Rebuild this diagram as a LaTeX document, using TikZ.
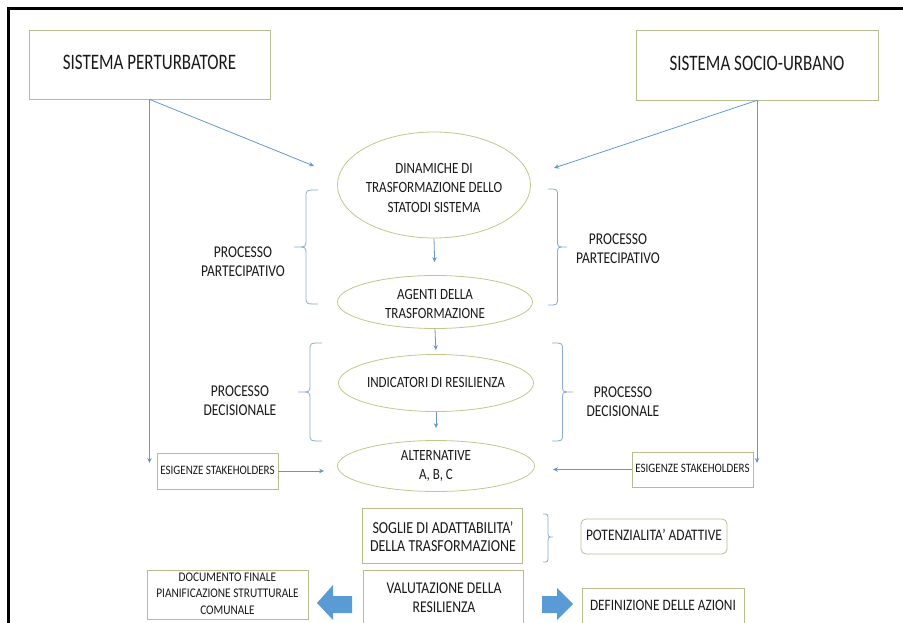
\documentclass[tikz,border=0pt]{standalone}
\usepackage{fontspec}
\usepackage{graphicx}
\setmainfont{Carlito}
\usetikzlibrary{shapes.geometric,arrows.meta}
\definecolor{boxc}{RGB}{180,190,145}
\definecolor{ellc}{RGB}{190,200,140}
\definecolor{arrc}{RGB}{105,150,200}
\definecolor{brc}{RGB}{140,170,210}
\definecolor{fatc}{RGB}{91,155,213}
\definecolor{txtc}{RGB}{25,25,25}
\newcommand\tx[2][1.22]{\scalebox{1}[#1]{\begin{tabular}{@{}c@{}}#2\end{tabular}}}
\newcommand\MyBrace[5]{% tip x, end x, top y, mid y, bottom y
  \draw[bracestyle] (#2,#3) .. controls ({(#1+#2)/2},#3) .. ({(#1+#2)/2},{#3+7})
    -- ({(#1+#2)/2},{#4-6}) .. controls ({(#1+#2)/2},#4) .. (#1,#4)
    .. controls ({(#1+#2)/2},#4) .. ({(#1+#2)/2},{#4+6})
    -- ({(#1+#2)/2},{#5-7}) .. controls ({(#1+#2)/2},#5) .. (#2,#5);}
\begin{document}
\begin{tikzpicture}[x=1pt,y=-1pt,
  every node/.style={text=txtc},
  titlebox/.style={draw=boxc, line width=0.8pt, inner sep=0pt, font=\fontsize{17}{20}\selectfont},
  smallbox/.style={draw=boxc, line width=0.8pt, inner sep=0pt, align=center},
  ell/.style={ellipse, draw=ellc, line width=0.8pt, inner sep=0pt},
  etext/.style={inner sep=0pt, font=\fontsize{13}{16}\selectfont},
  lbl/.style={inner sep=0pt, font=\fontsize{13.5}{16}\selectfont},
  conn/.style={draw=arrc, line width=0.8pt, -{Stealth[length=5pt,width=4.5pt]}},
  bracestyle/.style={draw=brc, line width=0.8pt},
  fat/.style={fill=fatc, draw=none}]
\useasboundingbox (0,0) rectangle (903,623);
\clip (0,0) rectangle (903,623);
% frame
\draw[line width=3pt, line cap=rect] (8.5,640) -- (8.5,8.5) -- (920,8.5);

% top boxes
\node[titlebox, minimum width=241pt, minimum height=69pt] (sp) at (149.5,64.5) {\tx[1.3]{SISTEMA PERTURBATORE}};
\node[titlebox, minimum width=242pt, minimum height=70pt] (ss) at (757,65) {\tx[1.3]{SISTEMA SOCIO-URBANO}};

% ellipses
\node[ell, minimum width=193pt, minimum height=106pt] (e1) at (434,185) {};
\node[etext] (t1) at (434,189) {\tx[1.2]{DINAMICHE DI\\TRASFORMAZIONE DELLO\\STATODI SISTEMA}};
\node[ell, minimum width=195pt, minimum height=53pt] (e2) at (435,302) {};
\node[etext] (t2) at (435,305) {\tx[1.2]{AGENTI DELLA\\TRASFORMAZIONE}};
\node[ell, minimum width=195pt, minimum height=57pt] (e3) at (436,383) {};
\node[etext] (t3) at (436,384) {\tx[1.2]{INDICATORI DI RESILIENZA}};
\node[ell, minimum width=197pt, minimum height=51pt] (e4) at (436,466) {};
\node[etext] (t4) at (436,466.5) {\tx[1.2]{ALTERNATIVE\\A, B, C}};

% stakeholder boxes
\node[smallbox, minimum width=121pt, minimum height=36pt, font=\fontsize{11}{13}\selectfont] (esl) at (217.5,471) {\tx[1.17]{ESIGENZE STAKEHOLDERS}};
\node[smallbox, minimum width=121pt, minimum height=35pt, font=\fontsize{11}{13}\selectfont] (esr) at (692.5,469.5) {\tx[1.17]{ESIGENZE STAKEHOLDERS}};

% lower boxes
\node[smallbox, minimum width=160pt, minimum height=55pt] (sog) at (442,535.5) {};
\node[inner sep=0pt, font=\fontsize{14}{15}\selectfont] (sogt) at (443,539) {\tx[1.2]{SOGLIE DI ADATTABILITA’\\DELLA TRASFORMAZIONE}};
\node[smallbox, rounded corners=5pt, minimum width=146pt, minimum height=35pt, font=\fontsize{13.4}{16}\selectfont] (pot) at (654,536.5) {\tx[1.2]{POTENZIALITA’ ADATTIVE}};
\node[smallbox, minimum width=160pt, minimum height=62pt] (val) at (443.5,601) {};
\node[inner sep=0pt, font=\fontsize{13.7}{16}\selectfont] (valt) at (444,599.5) {\tx[1.2]{VALUTAZIONE DELLA\\RESILIENZA}};
\node[smallbox, minimum width=161pt, minimum height=49pt, font=\fontsize{11.3}{14}\selectfont] (doc) at (227.5,594.5) {\tx[1.17]{DOCUMENTO FINALE\\PIANIFICAZIONE STRUTTURALE\\COMUNALE}};
\node[smallbox, minimum width=162pt, minimum height=38pt, font=\fontsize{13.3}{16}\selectfont] (def) at (663,607) {\tx[1.2]{DEFINIZIONE DELLE AZIONI}};

% side labels
\node[lbl] (pl1) at (243,263) {\tx{PROCESSO\\PARTECIPATIVO}};
\node[lbl] (pr1) at (618,250) {\tx{PROCESSO\\PARTECIPATIVO}};
\node[lbl] (pl2) at (240,402) {\tx{PROCESSO\\DECISIONALE}};
\node[lbl] (pr2) at (623,403) {\tx{PROCESSO\\DECISIONALE}};

% connectors
\coordinate (dl) at (314,166);
\coordinate (dr) at (554,168);
\coordinate (vl) at (149.5,463);
\coordinate (vr) at (757,463);
\draw[conn] (sp.south) -- (dl);
\draw[conn] (ss.south) -- (dr);
\draw[conn] (sp.south) -- (vl);
\draw[conn] (ss.south) -- (vr);
\draw[conn, shorten >=13pt] (e1.south) -- (e2.north);
\draw[conn, shorten >=4pt] (e2.south) -- (e3.north);
\draw[conn, shorten >=12pt] (e3.south) -- (e4.north);
\draw[conn, shorten >=13pt] (esl.east) -- (esl.east -| e4.west);
\draw[conn, shorten >=18pt] (esr.west) -- (esr.west -| e4.east);

% braces
\MyBrace{294}{318}{190}{247}{304}
\MyBrace{567}{548}{189}{247}{305}
\MyBrace{298}{322}{343}{392}{441}
\MyBrace{573}{552}{343}{392}{441}
\MyBrace{553}{543}{514}{537}{562}

% fat arrows
\fill[fat] (317,603) -- (333,585) -- (333,596) -- (352,596) -- (352,613) -- (333,613) -- (333,620) -- cycle;
\fill[fat] (573,604) -- (557,588) -- (557,596) -- (542,596) -- (542,613) -- (557,613) -- (557,620) -- cycle;
\end{tikzpicture}
\end{document}
